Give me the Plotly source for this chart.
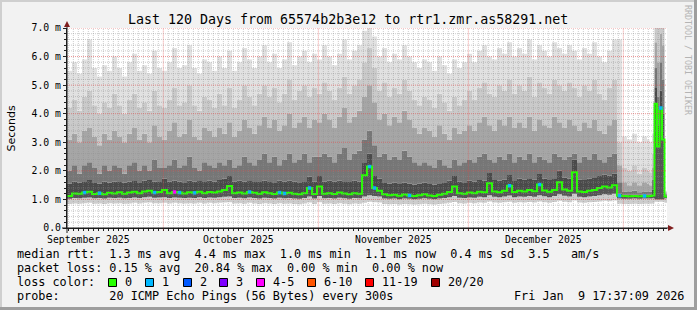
import pandas as pd
import plotly.graph_objects as go

# ---------------- data ----------------
START = pd.Timestamp("2025-09-11 17:37:09")
END = pd.Timestamp("2026-01-09 17:37:09")

# bin starts in days after START (daily, last four days in half-day steps)
BIN_START_DAYS = list(range(116)) + [116, 116.5, 117, 117.5, 118, 118.5, 119, 119.5]
BIN_END_DAY = 120

# median rtt (ms)
MEDIAN = [1.12, 1.21, 1.20, 1.24, 1.27, 1.19, 1.22, 1.18, 1.23, 1.21,
          1.25, 1.20, 1.24, 1.27, 1.22, 1.28, 1.30, 1.24, 1.26, 1.33,
          1.22, 1.26, 1.24, 1.21, 1.25, 1.23, 1.27, 1.22, 1.26, 1.24,
          1.28, 1.33, 1.47, 1.22, 1.24, 1.21, 1.26, 1.23, 1.20, 1.25,
          1.22, 1.19, 1.24, 1.21, 1.23, 1.20, 1.18, 1.22, 1.40, 1.19,
          1.45, 1.20, 1.22, 1.19, 1.24, 1.21, 1.18, 1.22, 1.20, 1.85,
          2.15, 1.40, 1.30, 1.18, 1.15, 1.16, 1.13, 1.17, 1.14, 1.12,
          1.15, 1.18, 1.14, 1.12, 1.16, 1.20, 1.26, 1.45, 1.22, 1.20,
          1.24, 1.22, 1.27, 1.25, 1.57, 1.28, 1.25, 1.30, 1.48, 1.26,
          1.30, 1.28, 1.33, 1.29, 1.52, 1.31, 1.27, 1.33, 1.60, 1.35,
          1.30, 1.95, 1.28, 1.26, 1.30, 1.33, 1.40, 1.45, 1.42, 1.50,
          1.13, 1.12, 1.11, 1.12, 1.11, 1.12,
          1.11, 1.12, 1.14, 4.35, 2.85, 4.20, 3.10, 1.10]

# lost pings (of 20) per bin
LOSS = [0, 0, 0, 1, 0, 0, 1, 0, 0, 0,
        0, 0, 0, 0, 0, 0, 0, 1, 0, 0,
        0, 4, 1, 0, 0, 1, 0, 0, 0, 0,
        0, 0, 0, 0, 0, 0, 1, 0, 0, 0,
        0, 0, 1, 1, 0, 0, 0, 0, 1, 0,
        0, 0, 0, 0, 0, 0, 0, 0, 0, 0,
        1, 1, 0, 0, 0, 0, 0, 0, 1, 0,
        0, 0, 0, 0, 0, 0, 0, 0, 0, 0,
        0, 0, 0, 0, 0, 0, 0, 0, 1, 0,
        0, 0, 0, 0, 1, 0, 0, 0, 0, 0,
        0, 0, 0, 0, 0, 0, 0, 0, 0, 0,
        1, 0, 0, 0, 0, 1,
        0, 0, 0, 0, 0, 1, 0, 0]

# smoke levels (ms), from the lowest ping rank band to the highest
LO2 = [0.84, 0.86, 0.85, 0.87, 0.88, 0.85, 0.86, 0.84, 0.87, 0.86,
       0.87, 0.85, 0.86, 0.88, 0.86, 0.88, 0.89, 0.87, 0.87, 0.88,
       0.86, 0.88, 0.87, 0.86, 0.87, 0.86, 0.88, 0.86, 0.88, 0.87,
       0.88, 0.89, 0.90, 0.86, 0.87, 0.85, 0.88, 0.86, 0.84, 0.87,
       0.86, 0.84, 0.87, 0.85, 0.86, 0.84, 0.83, 0.86, 0.89, 0.84,
       0.90, 0.85, 0.86, 0.84, 0.87, 0.85, 0.83, 0.86, 0.85, 0.88,
       0.92, 0.90, 0.89, 0.84, 0.83, 0.84, 0.82, 0.84, 0.83, 0.82,
       0.83, 0.85, 0.83, 0.82, 0.84, 0.86, 0.88, 0.91, 0.87, 0.86,
       0.88, 0.87, 0.89, 0.88, 0.93, 0.89, 0.88, 0.90, 0.92, 0.88,
       0.90, 0.89, 0.91, 0.89, 0.93, 0.90, 0.88, 0.91, 0.95, 0.92,
       0.90, 0.96, 0.89, 0.88, 0.90, 0.91, 0.93, 0.95, 0.94, 0.96,
       0.85, 0.84, 0.84, 0.85, 0.84, 0.85,
       0.85, 0.85, 0.86, 0.92, 0.92, 0.92, 0.92, 0.88]

LO1 = [1.02, 1.05, 1.04, 1.06, 1.07, 1.04, 1.05, 1.03, 1.06, 1.05,
       1.06, 1.04, 1.05, 1.07, 1.05, 1.08, 1.09, 1.06, 1.07, 1.08,
       1.05, 1.07, 1.06, 1.05, 1.06, 1.05, 1.08, 1.05, 1.07, 1.06,
       1.08, 1.09, 1.10, 1.05, 1.06, 1.04, 1.07, 1.05, 1.03, 1.06,
       1.05, 1.03, 1.06, 1.04, 1.05, 1.03, 1.02, 1.05, 1.10, 1.03,
       1.12, 1.04, 1.05, 1.03, 1.06, 1.04, 1.02, 1.05, 1.04, 1.10,
       1.15, 1.12, 1.10, 1.03, 1.02, 1.03, 1.01, 1.03, 1.02, 1.01,
       1.02, 1.04, 1.02, 1.01, 1.03, 1.05, 1.08, 1.12, 1.06, 1.05,
       1.07, 1.06, 1.09, 1.08, 1.15, 1.09, 1.08, 1.10, 1.14, 1.08,
       1.10, 1.09, 1.12, 1.09, 1.15, 1.11, 1.08, 1.12, 1.18, 1.13,
       1.10, 1.20, 1.09, 1.08, 1.10, 1.12, 1.15, 1.18, 1.16, 1.20,
       1.03, 1.02, 1.02, 1.03, 1.02, 1.03,
       1.03, 1.03, 1.04, 1.00, 1.00, 1.00, 1.00, 1.04]

S1 = [1.55, 1.62, 1.58, 1.64, 1.68, 1.60, 1.56, 1.63, 1.59, 1.62,
      1.64, 1.58, 1.63, 1.67, 1.60, 1.66, 1.68, 1.62, 1.64, 1.72,
      1.62, 1.66, 1.63, 1.60, 1.65, 1.62, 1.67, 1.61, 1.66, 1.63,
      1.68, 1.72, 1.85, 1.62, 1.65, 1.63, 1.67, 1.64, 1.61, 1.66,
      1.64, 1.60, 1.66, 1.63, 1.65, 1.62, 1.60, 1.64, 1.80, 1.62,
      1.85, 1.63, 1.65, 1.62, 1.66, 1.64, 1.61, 1.65, 1.63, 2.30,
      2.60, 1.85, 1.72, 1.60, 1.56, 1.58, 1.54, 1.59, 1.56, 1.52,
      1.55, 1.58, 1.54, 1.52, 1.57, 1.60, 1.66, 1.85, 1.62, 1.60,
      1.65, 1.62, 1.68, 1.66, 1.95, 1.68, 1.66, 1.70, 1.88, 1.67,
      1.72, 1.69, 1.74, 1.70, 1.92, 1.72, 1.68, 1.74, 2.00, 1.76,
      1.72, 2.40, 1.70, 1.68, 1.72, 1.75, 1.82, 1.86, 1.84, 1.90,
      1.20, 1.17, 1.16, 1.17, 1.16, 1.17,
      1.17, 1.17, 1.35, 4.90, 3.60, 4.80, 4.00, 1.14]

S2 = [2.0, 2.2, 1.9, 2.2, 2.3, 2.1, 1.9, 2.2, 2.0, 2.2,
      2.1, 1.9, 2.2, 2.3, 2.0, 2.2, 2.0, 2.4, 2.1, 2.1,
      2.2, 2.4, 2.1, 2.2, 2.5, 2.1, 2.0, 2.3, 2.2, 2.1,
      2.3, 2.2, 2.4, 2.1, 2.2, 2.5, 2.3, 2.2, 2.4, 2.6,
      2.3, 2.5, 2.2, 2.4, 2.6, 2.3, 2.4, 2.6, 2.3, 2.5,
      2.5, 2.6, 2.5, 2.3, 2.6, 2.8, 2.4, 2.6, 2.7, 3.1,
      3.4, 2.9, 2.5, 2.6, 2.4, 2.5, 2.4, 2.7, 2.5, 2.3,
      2.2, 2.3, 2.2, 2.1, 2.4, 2.2, 2.1, 2.4, 2.2, 2.3,
      2.4, 2.3, 2.5, 2.6, 2.4, 2.3, 2.5, 2.4, 2.6, 2.3,
      2.5, 2.4, 2.6, 2.3, 2.5, 2.4, 2.3, 2.6, 2.5, 2.4,
      2.5, 2.6, 2.3, 2.5, 2.4, 2.6, 2.4, 2.3, 2.5, 2.6,
      1.6, 1.28, 1.26, 1.30, 1.25, 1.28,
      1.28, 1.27, 1.70, 5.60, 4.60, 5.80, 5.20, 1.18]

S3 = [3.1, 3.3, 3.0, 3.4, 3.5, 3.2, 2.9, 3.3, 3.1, 3.4,
      3.2, 3.0, 3.3, 3.5, 3.1, 3.3, 3.0, 3.6, 3.2, 3.1,
      3.4, 3.7, 3.2, 3.3, 3.8, 3.2, 3.1, 3.5, 3.4, 3.2,
      3.5, 3.3, 3.7, 3.2, 3.4, 3.8, 3.5, 3.3, 3.6, 3.9,
      3.5, 3.8, 3.4, 3.6, 4.0, 3.5, 3.7, 3.9, 3.5, 3.8,
      3.7, 4.0, 3.8, 3.5, 3.9, 4.2, 3.7, 3.9, 4.1, 4.6,
      5.0, 4.4, 3.8, 4.0, 3.6, 3.9, 3.7, 4.1, 3.8, 3.5,
      3.3, 3.5, 3.4, 3.2, 3.6, 3.3, 3.1, 3.5, 3.3, 3.4,
      3.6, 3.4, 3.7, 3.9, 3.6, 3.4, 3.8, 3.6, 3.9, 3.5,
      3.7, 3.5, 3.9, 3.4, 3.8, 3.6, 3.5, 3.9, 3.7, 3.5,
      3.8, 3.6, 3.4, 3.7, 3.5, 3.8, 3.4, 3.3, 3.6, 3.8,
      2.2, 1.6, 1.5, 1.6, 1.5, 1.6,
      1.55, 1.50, 2.10, 6.50, 5.80, 6.80, 6.40, 1.22]

S4 = [4.2, 4.5, 4.1, 4.6, 4.8, 4.3, 4.0, 4.4, 4.2, 4.7,
      4.3, 4.0, 4.5, 4.7, 4.2, 4.4, 4.1, 4.8, 4.3, 4.2,
      4.5, 4.9, 4.3, 4.4, 5.0, 4.3, 4.1, 4.6, 4.5, 4.2,
      4.7, 4.3, 4.9, 4.2, 4.5, 5.0, 4.6, 4.3, 4.7, 5.0,
      4.6, 4.9, 4.4, 4.7, 5.2, 4.5, 4.8, 5.0, 4.6, 4.9,
      4.7, 5.1, 4.8, 4.5, 4.9, 5.3, 4.7, 5.0, 5.2, 5.8,
      6.3, 5.6, 4.8, 5.1, 4.6, 4.9, 4.7, 5.2, 4.8, 4.5,
      4.3, 4.6, 4.5, 4.2, 4.7, 4.4, 4.1, 4.6, 4.3, 4.5,
      4.8, 4.5, 4.9, 5.1, 4.7, 4.6, 5.0, 4.8, 5.2, 4.7,
      5.0, 4.8, 5.3, 4.6, 5.1, 4.9, 4.7, 5.2, 5.0, 4.8,
      5.1, 4.9, 4.6, 5.0, 4.8, 5.2, 4.7, 4.5, 4.9, 5.2,
      3.0, 2.1, 2.0, 2.2, 1.9, 2.1,
      2.00, 1.95, 2.60, 7.40, 7.20, 7.50, 7.40, 1.26]

TOP = [5.5, 5.8, 5.4, 5.9, 6.6, 5.6, 5.3, 5.7, 5.5, 6.0,
       5.6, 5.3, 5.8, 6.1, 5.5, 5.7, 5.4, 6.2, 5.6, 5.5,
       5.8, 6.3, 5.6, 5.7, 6.4, 5.6, 5.4, 5.9, 5.8, 5.5,
       6.0, 5.6, 6.2, 5.5, 5.8, 6.3, 5.9, 5.6, 6.0, 6.4,
       5.8, 6.1, 5.6, 5.9, 6.5, 5.7, 6.0, 6.2, 5.8, 6.1,
       5.9, 6.4, 6.0, 5.7, 6.1, 6.6, 5.9, 6.2, 6.4, 6.9,
       7.3, 6.7, 6.0, 6.3, 5.8, 6.1, 5.9, 6.4, 6.0, 5.8,
       5.6, 5.9, 5.8, 5.5, 6.0, 5.7, 5.4, 5.9, 5.6, 5.8,
       6.1, 5.8, 6.2, 6.4, 6.0, 5.9, 6.3, 6.1, 6.5, 6.0,
       6.3, 6.1, 6.6, 5.9, 6.4, 6.2, 6.0, 6.5, 6.3, 6.1,
       6.4, 6.2, 5.9, 6.3, 6.1, 6.5, 6.0, 5.8, 6.2, 6.6,
       6.6, 3.2, 3.1, 3.3, 3.0, 3.2,
       3.10, 3.00, 3.30, 8.00, 8.00, 8.00, 8.00, 1.30]

Y_TICKS = [0, 1, 2, 3, 4, 5, 6, 7]
Y_TICK_TEXT = ["0.0", "1.0 m", "2.0 m", "3.0 m", "4.0 m", "5.0 m", "6.0 m", "7.0 m"]
MONTH_LABEL_AT = ["2025-09-16", "2025-10-16", "2025-11-16", "2025-12-16"]
MONTH_LABELS = ["September 2025", "October 2025", "November 2025", "December 2025"]

LOSS_LABELS = ["0", "1", "2", "3", "4-5", "6-10", "11-19", "20/20"]
LOSS_COLORS = ["#26ff00", "#00b8ff", "#0059ff", "#7e00ff", "#ff00ff", "#ff5500", "#ff0000", "#a00000"]

TITLE = "Last 120 Days from 65574b2b3e12 to rtr1.zmr.as58291.net"
LEG1 = "median rtt:  1.3 ms avg  4.4 ms max  1.0 ms min  1.1 ms now  0.4 ms sd  3.5   am/s"
LEG2 = "packet loss: 0.15 % avg  20.84 % max  0.00 % min  0.00 % now"
LEG3 = "loss color:"
LEG4 = "probe:       20 ICMP Echo Pings (56 Bytes) every 300s"
STAMP = "Fri Jan  9 17:37:09 2026"

# ---------------- layout helpers ----------------
W, H = 697, 310
PL, PR, PT, PB = 67, 667, 28, 228


def X(px):
    return (px - PL) / (PR - PL)


def Y(py):
    return (PB - py) / (PB - PT)


def nb(s):
    return s.replace(" ", "\u00a0")


MONO = "DejaVu Sans Mono"

edges = BIN_START_DAYS + [BIN_END_DAY]
centers = [(a + b) / 2 for a, b in zip(edges[:-1], edges[1:])]
x_edges = [START + pd.Timedelta(days=d) for d in edges]
x_centers = [START + pd.Timedelta(days=d) for d in centers]

fig = go.Figure()

levels = [LO2, LO1, MEDIAN, S1, S2, S3, S4, TOP]
band_colors = [None, "#cdcdcd", "#555555", "#4a4a4a", "#767676", "#a6a6a6", "#cacaca", "#e1e1e1"]
for i, lev in enumerate(levels):
    fig.add_trace(go.Scatter(
        x=x_edges, y=list(lev) + [lev[-1]], mode="lines",
        line=dict(width=0, shape="hv"),
        fill=None if i == 0 else "tonexty",
        fillcolor=band_colors[i], hoverinfo="skip", showlegend=False))

# median line drawn step-wise like the rrd graph
fig.add_trace(go.Scatter(x=x_edges, y=list(MEDIAN) + [MEDIAN[-1]], mode="lines",
                         line=dict(color=LOSS_COLORS[0], width=2, shape="hv"),
                         hoverinfo="skip", showlegend=False))


def loss_class(n):
    if n <= 3:
        return n
    if n <= 5:
        return 4
    if n <= 10:
        return 5
    if n <= 19:
        return 6
    return 7


for c in range(1, 8):
    xs = [x for x, l in zip(x_centers, LOSS) if l > 0 and loss_class(l) == c]
    ys = [m for m, l in zip(MEDIAN, LOSS) if l > 0 and loss_class(l) == c]
    if xs:
        fig.add_trace(go.Scatter(x=xs, y=ys, mode="markers",
                                 marker=dict(symbol="square", size=3.5, color=LOSS_COLORS[c], line=dict(width=0)),
                                 hoverinfo="skip", showlegend=False))

shapes = []
GRID = "rgba(143,143,143,0.45)"
MGRID = "rgba(222,79,79,0.6)"
# vertical grid (daily minor, monthly major)
for d in pd.date_range("2025-09-12", "2026-01-09", freq="D"):
    major = d.day == 1
    shapes.append(dict(type="line", xref="x", yref="paper", x0=d, x1=d,
                       y0=-0.012 if major else 0, y1=1,
                       line=dict(color=MGRID if major else GRID, width=1, dash="1px,1px"),
                       layer="above"))
# horizontal grid
for k in range(1, 36):
    v = round(k * 0.2, 1)
    major = k % 5 == 0
    shapes.append(dict(type="line", xref="paper", yref="y", x0=0, x1=1, y0=v, y1=v,
                       line=dict(color=MGRID if major else GRID, width=1, dash="1px,1px"),
                       layer="above"))

AXIS = "#1f1f1f"
ARROW = "#801f1f"
# axis extensions and arrows
shapes.append(dict(type="line", xref="paper", yref="paper", x0=X(62), x1=X(669), y0=0, y1=0,
                   line=dict(color=AXIS, width=1)))
shapes.append(dict(type="line", xref="paper", yref="paper", x0=0, x1=0, y0=Y(233), y1=Y(26),
                   line=dict(color=AXIS, width=1)))
shapes.append(dict(type="path", xref="paper", yref="paper",
                   path=f"M {X(668)},{Y(225)} L {X(668)},{Y(231)} L {X(674)},{Y(228)} Z",
                   fillcolor=ARROW, line=dict(width=0)))
shapes.append(dict(type="path", xref="paper", yref="paper",
                   path=f"M {X(64)},{Y(27)} L {X(70)},{Y(27)} L {X(67)},{Y(21)} Z",
                   fillcolor=ARROW, line=dict(width=0)))
# frame shading
shapes.append(dict(type="rect", xref="paper", yref="paper", x0=X(0), x1=X(W), y0=Y(0), y1=Y(2),
                   fillcolor="#cfcfcf", line=dict(width=0)))
shapes.append(dict(type="rect", xref="paper", yref="paper", x0=X(0), x1=X(2), y0=Y(0), y1=Y(H),
                   fillcolor="#cfcfcf", line=dict(width=0)))
shapes.append(dict(type="rect", xref="paper", yref="paper", x0=X(W - 3), x1=X(W), y0=Y(0), y1=Y(H),
                   fillcolor="#9e9e9e", line=dict(width=0)))
shapes.append(dict(type="rect", xref="paper", yref="paper", x0=X(0), x1=X(W), y0=Y(H - 3), y1=Y(H),
                   fillcolor="#9e9e9e", line=dict(width=0)))

# loss colour legend boxes
BOX_X = [108, 145, 183, 219, 256, 307, 365, 431]
annotations = []
for bx, col, lab in zip(BOX_X, LOSS_COLORS, LOSS_LABELS):
    shapes.append(dict(type="rect", xref="paper", yref="paper", x0=X(bx + 0.5), x1=X(bx + 8.5),
                       y0=Y(286.5), y1=Y(278.5), fillcolor=col, line=dict(color="#000000", width=1)))
    annotations.append(dict(text=nb(lab), xref="paper", yref="paper", x=X(bx + 15), y=Y(282),
                            xanchor="left", yanchor="middle", showarrow=False,
                            font=dict(family=MONO, size=11.8, color="#000000")))

LEG_FONT = dict(family=MONO, size=11.8, color="#000000")
for txt, py in [(LEG1, 254), (LEG2, 268), (LEG3, 282), (LEG4, 296)]:
    annotations.append(dict(text=nb(txt), xref="paper", yref="paper", x=X(15), y=Y(py),
                            xanchor="left", yanchor="middle", showarrow=False, font=LEG_FONT))
annotations.append(dict(text=nb(STAMP), xref="paper", yref="paper", x=X(512), y=Y(296),
                        xanchor="left", yanchor="middle", showarrow=False, font=LEG_FONT))
annotations.append(dict(text=nb(TITLE), xref="paper", yref="paper", x=X(348), y=Y(19.5),
                        xanchor="center", yanchor="middle", showarrow=False,
                        font=dict(family=MONO, size=13.3, color="#000000")))
annotations.append(dict(text="Seconds", xref="paper", yref="paper", x=X(11), y=Y(128.5),
                        xanchor="center", yanchor="middle", showarrow=False, textangle=-90,
                        font=dict(family="DejaVu Sans", size=11, color="#000000")))
annotations.append(dict(text=nb("RRDTOOL / TOBI OETIKER"), xref="paper", yref="paper", x=X(688), y=Y(60),
                        xanchor="center", yanchor="middle", showarrow=False, textangle=90,
                        font=dict(family=MONO, size=8.3, color="#b4b4b4")))

fig.update_layout(
    width=W, height=H,
    margin=dict(l=PL, r=W - PR, t=PT, b=H - PB, pad=0),
    paper_bgcolor="#f2f2f2", plot_bgcolor="#ffffff",
    showlegend=False,
    shapes=shapes, annotations=annotations,
    xaxis=dict(type="date", range=[START, END], showgrid=False, zeroline=False,
               showline=True, linecolor=AXIS, linewidth=1,
               tickmode="array", tickvals=MONTH_LABEL_AT, ticktext=MONTH_LABELS,
               ticks="", ticklabelstandoff=2,
               tickfont=dict(family=MONO, size=9.8, color="#000000"),
               minor=dict(ticks="outside", ticklen=2, tickcolor=AXIS, dtick=86400000,
                          tick0="2025-09-12", showgrid=False),
               fixedrange=True),
    yaxis=dict(range=[0, 7], showgrid=False, zeroline=False,
               showline=True, linecolor=AXIS, linewidth=1,
               tickmode="array", tickvals=Y_TICKS, ticktext=Y_TICK_TEXT,
               ticks="outside", ticklen=3, tickcolor=AXIS,
               tickfont=dict(family=MONO, size=9.8, color="#000000"),
               minor=dict(ticks="outside", ticklen=2, tickcolor=AXIS, dtick=0.2, showgrid=False),
               fixedrange=True),
)

fig.write_html("out.html", config={"displayModeBar": False})
